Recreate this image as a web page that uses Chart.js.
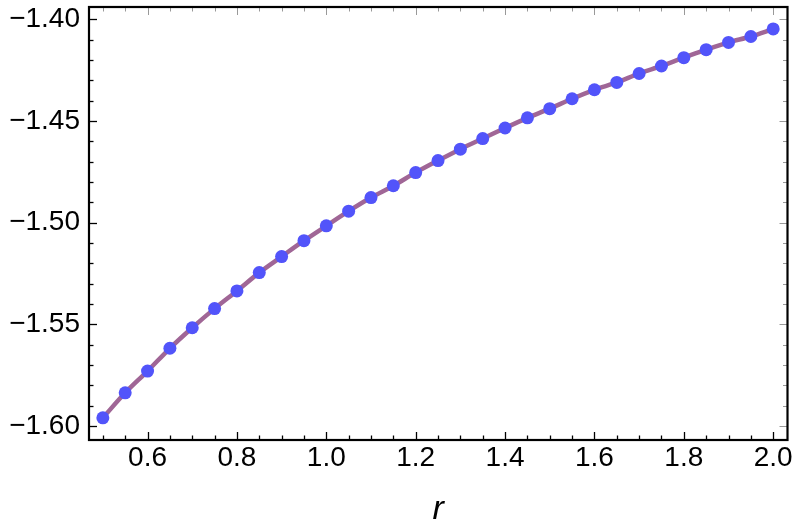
<!DOCTYPE html>
<html>
<head>
<meta charset="utf-8">
<script src="https://cdn.jsdelivr.net/npm/chart.js@4/dist/chart.umd.min.js"></script>
<style>
  html, body { margin: 0; padding: 0; background: #fff; }
  #wrap { width: 797px; height: 532px; }
</style>
</head>
<body>
<div id="wrap"><canvas id="plot" width="797" height="532"></canvas></div>
<script>
// sample points r = 0.5 ... 2.0
const rValues = [0.50, 0.55, 0.60, 0.65, 0.70, 0.75, 0.80, 0.85, 0.90, 0.95,
                 1.00, 1.05, 1.10, 1.15, 1.20, 1.25, 1.30, 1.35, 1.40, 1.45,
                 1.50, 1.55, 1.60, 1.65, 1.70, 1.75, 1.80, 1.85, 1.90, 1.95, 2.00];
const energyValues = [-1.5960, -1.5837, -1.5730, -1.5618, -1.5517, -1.5423, -1.5336, -1.5246, -1.5167, -1.5089,
                      -1.5016, -1.4944, -1.4877, -1.4819, -1.4754, -1.4695, -1.4639, -1.4587, -1.4535, -1.4485,
                      -1.4440, -1.4391, -1.4347, -1.4311, -1.4267, -1.4230, -1.4189, -1.4150, -1.4114, -1.4085, -1.4048];

const xMajor = [0.6, 0.8, 1.0, 1.2, 1.4, 1.6, 1.8, 2.0];
const yMajor = [-1.60, -1.55, -1.50, -1.45, -1.40];
const xMinorStep = 0.05;
const yMinorStep = 0.01;

const points = rValues.map((r, i) => ({ x: r, y: energyValues[i] }));

// inward Mathematica-style ticks and the frame
const frameTicks = {
  id: 'frameTicks',
  afterDraw(chart) {
    const ctx = chart.ctx;
    const a = chart.chartArea;
    const xs = chart.scales.x, ys = chart.scales.y;
    ctx.save();
    function tick(x1, y1, x2, y2, col, w) {
      ctx.strokeStyle = col; ctx.lineWidth = w;
      ctx.beginPath(); ctx.moveTo(x1, y1); ctx.lineTo(x2, y2); ctx.stroke();
    }
    // x ticks
    for (let v = Math.ceil(xs.min / xMinorStep) * xMinorStep; v <= xs.max + 1e-9; v += xMinorStep) {
      const major = xMajor.some(m => Math.abs(m - v) < 1e-6);
      const px = Math.round(xs.getPixelForValue(v)) + 0.5;
      const len = major ? 8 : 4.5;
      tick(px, a.bottom, px, a.bottom - len, '#000', 1.3);
      tick(px, a.top, px, a.top + len, '#999', 1);
    }
    // y ticks
    for (let v = Math.ceil(ys.min / yMinorStep) * yMinorStep; v <= ys.max + 1e-9; v += yMinorStep) {
      const major = yMajor.some(m => Math.abs(m - v) < 1e-6);
      const py = Math.round(ys.getPixelForValue(v)) + 0.5;
      const len = major ? 8 : 4.5;
      tick(a.left, py, a.left + len, py, '#000', 1.3);
      tick(a.right, py, a.right - len, py, '#999', 1);
    }
    ctx.strokeStyle = '#000';
    ctx.lineWidth = 2.2;
    ctx.strokeRect(a.left, a.top, a.right - a.left, a.bottom - a.top);
    ctx.restore();
  }
};

const tickFont = { family: 'Liberation Sans, Arial, sans-serif', size: 28 };

new Chart(document.getElementById('plot'), {
  type: 'line',
  data: {
    datasets: [{
      data: points,
      borderColor: 'rgb(160, 102, 150)',
      borderWidth: 4.5,
      backgroundColor: 'rgb(82, 84, 250)',
      pointBackgroundColor: 'rgb(82, 84, 250)',
      pointBorderWidth: 0,
      pointRadius: 6.5,
      cubicInterpolationMode: 'monotone',
      fill: false
    }]
  },
  options: {
    responsive: false,
    animation: false,
    layout: { padding: { top: 7, right: 9.5, left: 0, bottom: 0 } },
    plugins: { legend: { display: false }, tooltip: { enabled: false } },
    scales: {
      x: {
        type: 'linear',
        min: 0.469,
        max: 2.032,
        grid: { display: false, drawTicks: false },
        border: { display: false },
        afterBuildTicks: s => { s.ticks = xMajor.map(v => ({ value: v })); },
        afterFit: s => { s.height = 92; s.paddingLeft = 0; s.paddingRight = 0; },
        ticks: {
          color: '#000',
          font: tickFont,
          padding: 1,
          maxRotation: 0,
          autoSkip: false,
          callback: v => v.toFixed(1)
        },
        title: {
          display: true,
          text: 'r',
          color: '#000',
          font: { family: 'Liberation Sans, Arial, sans-serif', size: 34, style: 'italic' },
          padding: { top: 0, bottom: 2 }
        }
      },
      y: {
        type: 'linear',
        min: -1.6069,
        max: -1.394,
        grid: { display: false, drawTicks: false },
        border: { display: false },
        afterBuildTicks: s => { s.ticks = yMajor.map(v => ({ value: v })); },
        afterFit: s => { s.width = 89; s.paddingTop = 0; s.paddingBottom = 0; },
        ticks: {
          color: '#000',
          font: tickFont,
          padding: 9,
          autoSkip: false,
          callback: v => (v < 0 ? '\u2212' : '') + Math.abs(v).toFixed(2)
        }
      }
    }
  },
  plugins: [frameTicks]
});
</script>
</body>
</html>
